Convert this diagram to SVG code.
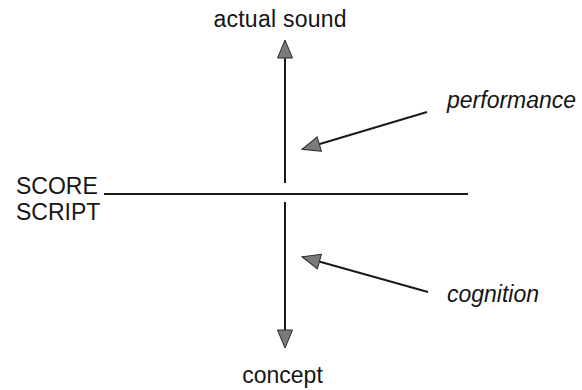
<svg xmlns="http://www.w3.org/2000/svg" width="582" height="390" viewBox="0 0 582 390">
<style>
.t{font-family:"Liberation Sans",Arial,sans-serif;font-size:23px;fill:#151515}
.i{font-style:italic}
.ln{stroke:#1a1a1a;stroke-width:2;fill:none}
</style>
<defs>
<marker id="ah" markerUnits="userSpaceOnUse" markerWidth="20" markerHeight="17" refX="17" refY="7.5" orient="auto" viewBox="-1 -1 20 17">
<path d="M0,0 L18,7.5 L0,15 z" fill="#7a7a7a" stroke="#2a2a2a" stroke-width="1" stroke-linejoin="miter"/>
</marker>
</defs>
<rect width="582" height="390" fill="#fff"/>
<g id="connectors">
<line class="ln" x1="285" y1="183" x2="285" y2="41" marker-end="url(#ah)"/>
<line class="ln" x1="285" y1="202" x2="285" y2="347" marker-end="url(#ah)"/>
<line class="ln" x1="427" y1="112" x2="303" y2="149" marker-end="url(#ah)"/>
<line class="ln" x1="428" y1="292" x2="303" y2="257" marker-end="url(#ah)"/>
<line class="ln" x1="104" y1="194" x2="468" y2="194" stroke-width="1.6"/>
</g>
<g id="actual-sound"><text class="t" x="280" y="27" text-anchor="middle" textLength="133">actual sound</text></g>
<g id="concept"><text class="t" x="282.5" y="383" text-anchor="middle">concept</text></g>
<g id="score-script">
<text class="t" x="16" y="194">SCORE</text>
<text class="t" x="16" y="220">SCRIPT</text>
</g>
<g id="performance"><text class="t i" x="447" y="108">performance</text></g>
<g id="cognition"><text class="t i" x="447" y="302">cognition</text></g>
</svg>
